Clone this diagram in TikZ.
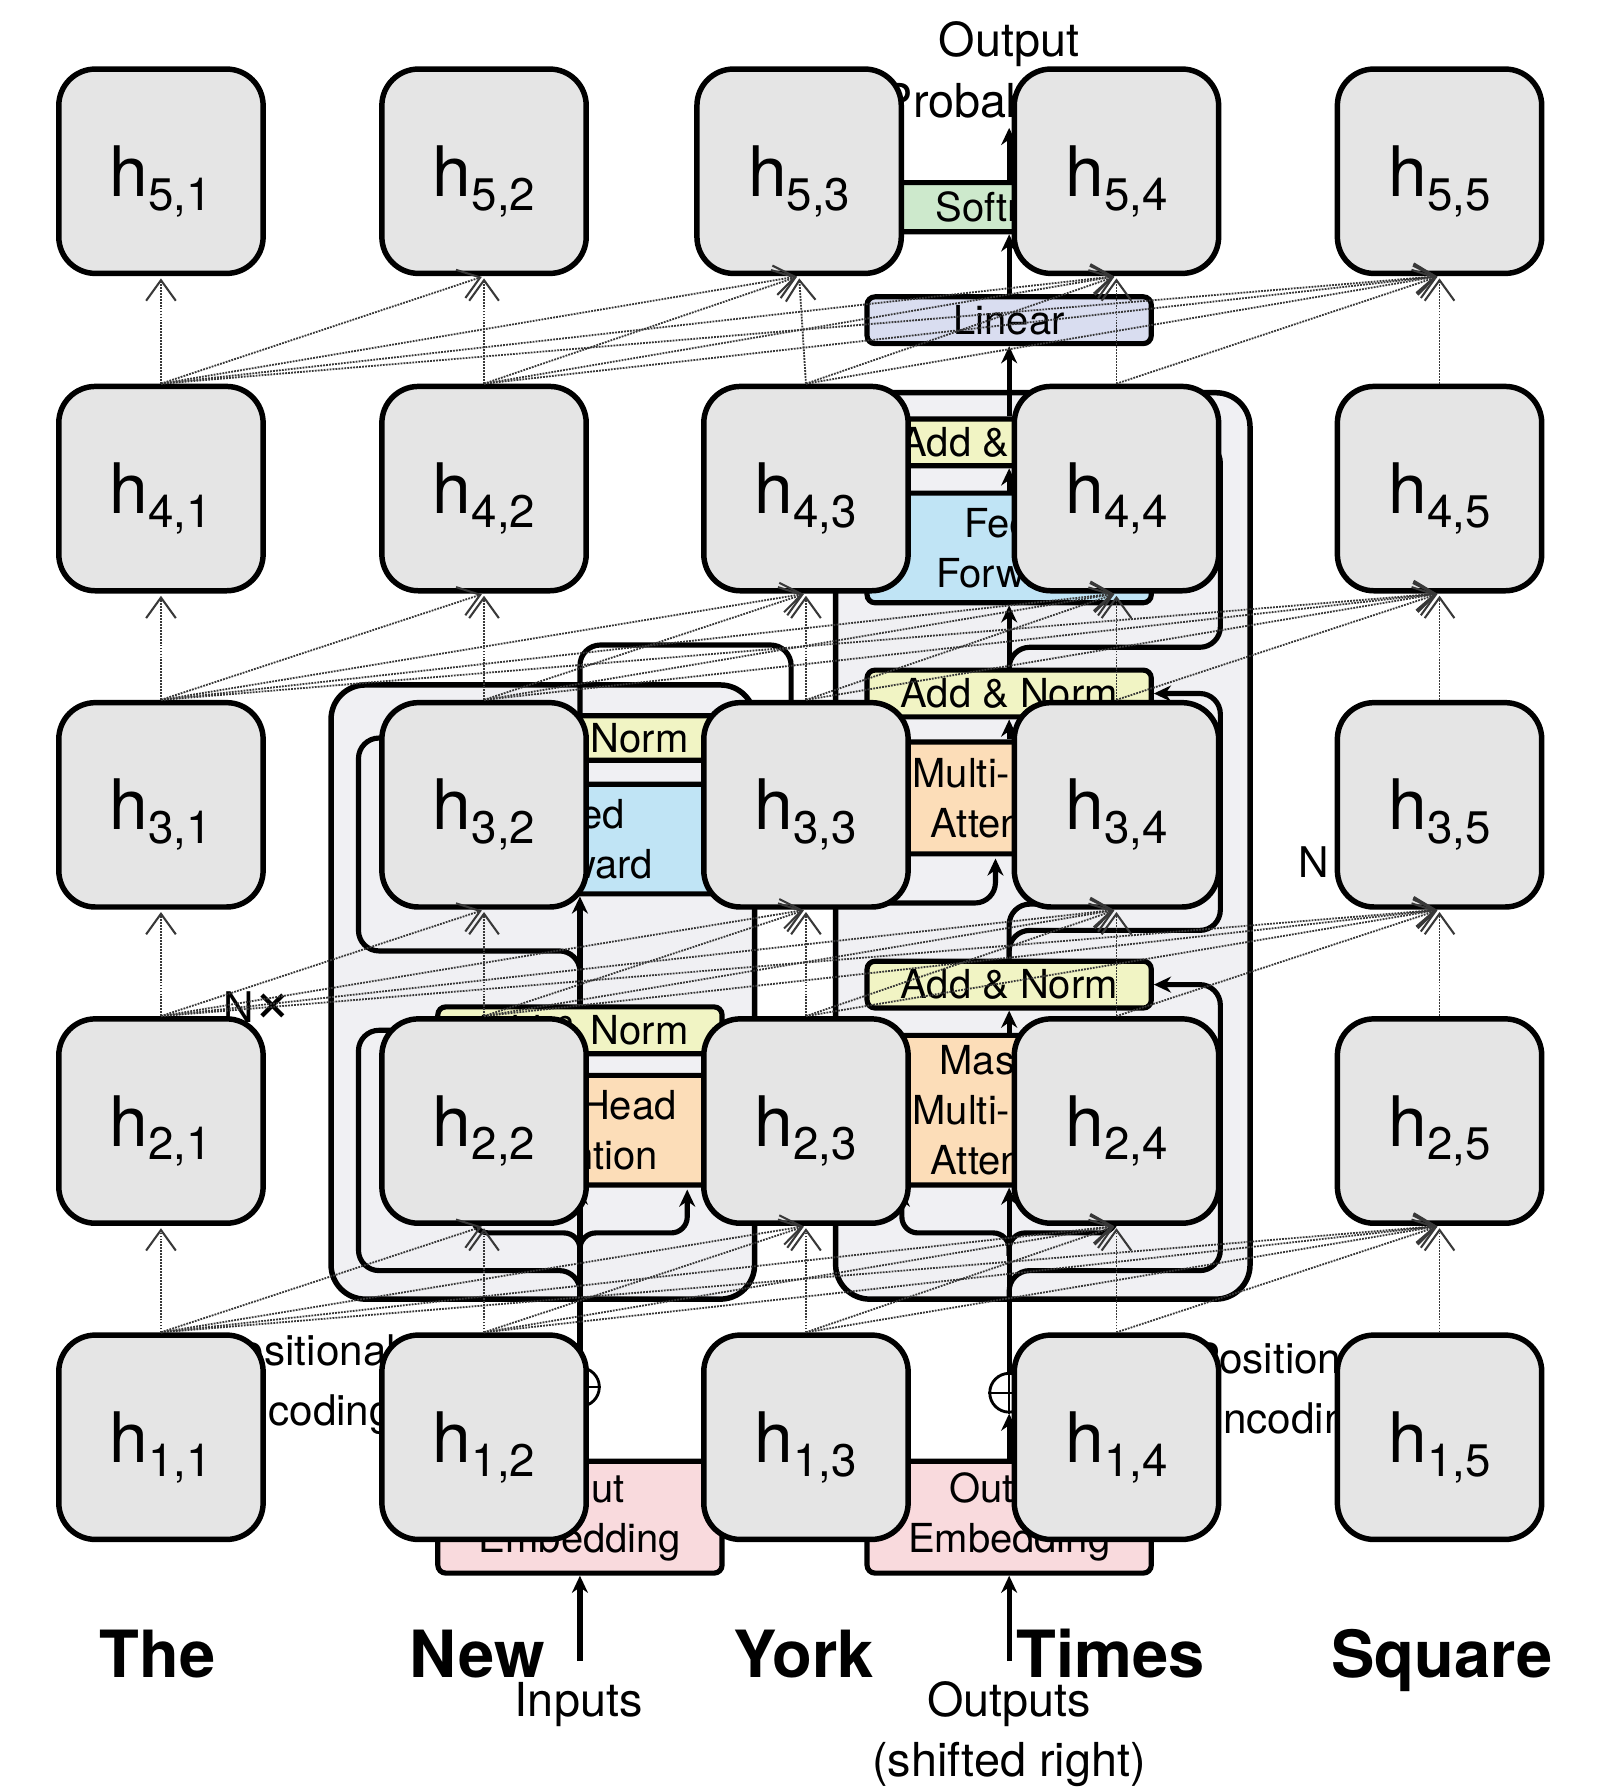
\documentclass[tikz,border=0pt]{standalone}
\usepackage{fontspec}
\setmainfont{TeX Gyre Heros}
\usetikzlibrary{arrows.meta}
\definecolor{hgray}{HTML}{E5E5E5}
\definecolor{blockgray}{HTML}{F0F0F3}
\definecolor{anyellow}{HTML}{F1F4C4}
\definecolor{ffblue}{HTML}{C0E4F5}
\definecolor{mhaorange}{HTML}{FCDDB8}
\definecolor{embpink}{HTML}{F9DADD}
\definecolor{linlav}{HTML}{D9DDF0}
\definecolor{softgreen}{HTML}{CDE9CC}
\newcommand{\hlab}[2]{h\raisebox{-12pt}{\fontsize{40}{40}\selectfont#1,#2}}
\newcommand{\nxlab}{N{\fontsize{58}{58}\selectfont ×}}
\begin{document}
\begin{tikzpicture}[x=1pt,y=-1pt,
  hbox/.style={draw, line width=4.8pt, fill=hgray, rounded corners=32pt, minimum width=179pt, minimum height=179pt, inner sep=0pt, font=\fontsize{61}{62}\selectfont, text height=44pt, text depth=0pt},
  sub/.style={draw, line width=4.5pt, rounded corners=7pt, minimum width=249pt, inner sep=0pt, align=center, font=\fontsize{35}{44}\selectfont},
  blk/.style={draw, line width=4.8pt, fill=blockgray, rounded corners=30pt, inner sep=0pt},
  thk/.style={line width=4.5pt, rounded corners=18pt},
  arr/.style={thk, -{Stealth[length=15pt,width=14pt]}},
  lab/.style={align=center, font=\fontsize{41}{53}\selectfont, inner sep=0pt},
  plab/.style={align=center, font=\fontsize{37}{52}\selectfont, inner sep=0pt},
  word/.style={font=\fontsize{57}{60}\selectfont\bfseries, anchor=base, inner sep=0pt},
  dotarrow/.style={draw=black!78, line width=1.6pt, densely dotted, -{Straight Barb[length=18pt,width=26pt,line width=1.8pt]}, shorten >=2pt},
]
\fill[white] (0,0) rectangle (1401,1568);
\useasboundingbox (0,0) rectangle (1401,1568);

% ---------- blocks ----------
\node[blk, minimum width=371pt, minimum height=538pt] (enc) at (475.5,869) {};
\node[blk, minimum width=363pt, minimum height=794pt] (dec) at (913.5,741) {};

% ---------- encoder sublayers ----------
\node[sub, fill=anyellow, minimum height=39pt] (ean2) at (508,646.5) {Add \& Norm};
\node[sub, fill=ffblue, minimum height=96pt] (eff) at (508,735) {Feed\\Forward};
\node[sub, fill=anyellow, minimum height=41pt] (ean1) at (508,902.5) {Add \& Norm};
\node[sub, fill=mhaorange, minimum height=96pt] (emha) at (508,990) {Multi-Head\\Attention};
\node[sub, fill=embpink, minimum height=98pt] (eemb) at (508,1329) {Input\\Embedding};
\node[circle, draw, line width=2.5pt, fill=white, minimum size=34pt, inner sep=0pt] (eplus) at (508,1215) {};
\draw[line width=2pt] (eplus.north) -- (eplus.south) (eplus.west) -- (eplus.east);

% ---------- decoder sublayers ----------
\node[sub, fill=softgreen, minimum height=43pt] (soft) at (884,181.5) {Softmax};
\node[sub, fill=linlav, minimum height=41pt] (lin) at (884,280.5) {Linear};
\node[sub, fill=anyellow, minimum height=41pt] (dan3) at (884,387.5) {Add \& Norm};
\node[sub, fill=ffblue, minimum height=96pt] (dff) at (884,480) {Feed\\Forward};
\node[sub, fill=anyellow, minimum height=41pt] (dan2) at (884,607.5) {Add \& Norm};
\node[sub, fill=mhaorange, minimum height=98pt] (dmha) at (884,699) {Multi-Head\\Attention};
\node[sub, fill=anyellow, minimum height=41pt] (dan1) at (884,862.5) {Add \& Norm};
\node[sub, fill=mhaorange, minimum height=131pt] (dmmha) at (884,972.5) {Masked\\Multi-Head\\Attention};
\node[sub, fill=embpink, minimum height=98pt] (demb) at (884,1329) {Output\\Embedding};
\node[circle, draw, line width=2.5pt, fill=white, minimum size=34pt, inner sep=0pt] (dplus) at (884,1220) {};
\draw[line width=2pt] (dplus.north) -- (dplus.south) (dplus.west) -- (dplus.east);

% ---------- encoder connectors ----------
\coordinate (inS) at (508,1455);
\draw[arr] (inS) -- (eemb.south);
\draw[arr] (eemb.north) -- (eplus.south);
\draw[arr] (eplus.north) -- (emha.south);
\draw[arr, rounded corners=14pt] (508,1100) |- (414,1080) -- (414,1042);
\draw[arr, rounded corners=14pt] (508,1100) |- (602,1080) -- (602,1042);
\draw[arr] (508,1138) |- (314,1113) |- (ean1.west);
\draw[arr] (emha.north) -- (ean1.south);
\draw[arr] (ean1.north) -- (eff.south);
\draw[arr] (ean1.north) |- (314,833) |- (ean2.west);
\draw[arr] (eff.north) -- (ean2.south);
\draw[arr] (ean2.north) |- (693,565) |- (872,791) -- (872,752);
\draw[arr] (693,720) |- (790,791) -- (790,752);

% ---------- decoder connectors ----------
\coordinate (outS) at (884,1455);
\draw[arr] (outS) -- (demb.south);
\draw[arr] (demb.north) -- (dplus.south);
\draw[arr] (dplus.north) -- (dmmha.south);
\draw[arr, rounded corners=14pt] (884,1100) |- (790,1080) -- (790,1042);
\draw[arr, rounded corners=14pt] (884,1100) |- (978,1080) -- (978,1042);
\draw[arr] (884,1138) |- (1069,1113) |- (dan1.east);
\draw[arr] (dmmha.north) -- (dan1.south);
\draw[arr] (dan1.north) |- (978,792) -- (978,752);
\draw[arr] (dan1.north) |- (1069,815) |- (dan2.east);
\draw[arr] (dmha.north) -- (dan2.south);
\draw[arr] (dan2.north) -- (dff.south);
\draw[arr] (dan2.north) |- (1069,567) |- (dan3.east);
\draw[arr] (dff.north) -- (dan3.south);
\draw[arr] (dan3.north) -- (lin.south);
\draw[arr] (lin.north) -- (soft.south);
\coordinate (probS) at (884,112);
\draw[arr] (soft.north) -- (probS);

% ---------- transformer labels ----------
\node[lab] (outprob) at (884,61) {Output\\Probabilities};
\node[lab] (inputs) at (507,1493) {Inputs};
\node[lab] (outputs) at (884,1519) {Outputs\\(shifted right)};
\node[plab] (epos) at (267,1213) {Positional\\Encoding};
\node[plab] (dpos) at (1124,1220) {Positional\\Encoding};
\node[plab] (enx) at (226,882) {\nxlab};
\node[plab] (dnx) at (1168,755) {\nxlab};

% ---------- h grid ----------
\foreach \i/\y in {1/1259,2/982,3/705,4/428,5/150} {
  \foreach \j/\x in {1/141,2/424,3/706,4/978,5/1261} {
    \pgfmathsetmacro\xx{(\i==5 && \j==3) ? 700 : \x}
    \node[hbox] (h\i\j) at (\xx,\y) {\hlab{\i}{\j}};
  }
}

% ---------- dotted connections (causal) ----------
\foreach \i in {1,...,4} {
  \pgfmathtruncatemacro\ii{\i+1}
  \foreach \j in {1,...,5} {
    \foreach \k in {\j,...,5} {
      \draw[dotarrow] (h\i\j.north) -- (h\ii\k.south);
    }
  }
}

% ---------- words ----------
\node[word] (wThe) at (138,1469) {The};
\node[word] (wNew) at (418,1469) {New};
\node[word] (wYork) at (704,1469) {York};
\node[word] (wTimes) at (973,1469) {Times};
\node[word] (wSquare) at (1263,1469) {Square};
\end{tikzpicture}
\end{document}
